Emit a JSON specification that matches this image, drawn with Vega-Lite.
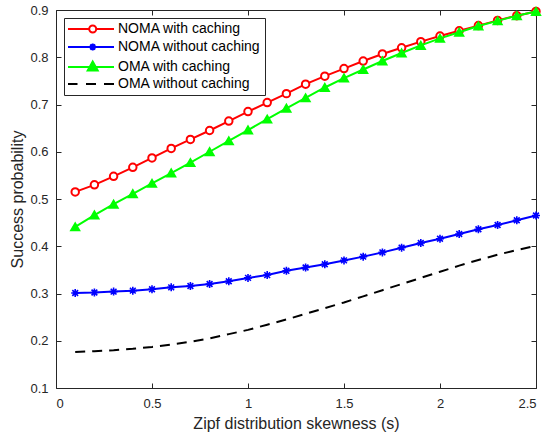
{
  "$schema": "https://vega.github.io/schema/vega-lite/v6.json",
  "width": 480,
  "height": 378,
  "autosize": {"type": "none"},
  "padding": {"left": 56, "top": 10, "right": 9, "bottom": 49},
  "background": "white",
  "config": {
    "font": "Liberation Sans",
    "view": {"stroke": null},
    "axis": {
      "grid": false,
      "domainColor": "#262626",
      "tickColor": "#262626",
      "labelColor": "#262626",
      "titleColor": "#262626",
      "labelFont": "Liberation Sans",
      "titleFont": "Liberation Sans",
      "labelFontSize": 13,
      "titleFontSize": 16,
      "titleFontWeight": "normal",
      "tickSize": -5,
      "domainWidth": 1,
      "tickWidth": 1
    },
    "legend": {
      "orient": "none", "legendX": 8, "legendY": 8, "fillColor": "white", "strokeColor": "#262626", "padding": 4,
      "labelFont": "Liberation Sans", "labelFontSize": 14, "labelColor": "#000000", "symbolSize": 100, "symbolStrokeWidth": 2,
      "labelOffset": 36, "rowPadding": 2, "labelLimit": 300
    }
  },
  "data": {
    "values": [
      {"s": 0.1, "series": "NOMA with caching", "p": 0.515},
      {"s": 0.2, "series": "NOMA with caching", "p": 0.530},
      {"s": 0.3, "series": "NOMA with caching", "p": 0.548},
      {"s": 0.4, "series": "NOMA with caching", "p": 0.567},
      {"s": 0.5, "series": "NOMA with caching", "p": 0.587},
      {"s": 0.6, "series": "NOMA with caching", "p": 0.607},
      {"s": 0.7, "series": "NOMA with caching", "p": 0.626},
      {"s": 0.8, "series": "NOMA with caching", "p": 0.645},
      {"s": 0.9, "series": "NOMA with caching", "p": 0.665},
      {"s": 1.0, "series": "NOMA with caching", "p": 0.685},
      {"s": 1.1, "series": "NOMA with caching", "p": 0.704},
      {"s": 1.2, "series": "NOMA with caching", "p": 0.723},
      {"s": 1.3, "series": "NOMA with caching", "p": 0.743},
      {"s": 1.4, "series": "NOMA with caching", "p": 0.760},
      {"s": 1.5, "series": "NOMA with caching", "p": 0.776},
      {"s": 1.6, "series": "NOMA with caching", "p": 0.792},
      {"s": 1.7, "series": "NOMA with caching", "p": 0.807},
      {"s": 1.8, "series": "NOMA with caching", "p": 0.820},
      {"s": 1.9, "series": "NOMA with caching", "p": 0.833},
      {"s": 2.0, "series": "NOMA with caching", "p": 0.845},
      {"s": 2.1, "series": "NOMA with caching", "p": 0.856},
      {"s": 2.2, "series": "NOMA with caching", "p": 0.867},
      {"s": 2.3, "series": "NOMA with caching", "p": 0.878},
      {"s": 2.4, "series": "NOMA with caching", "p": 0.888},
      {"s": 2.5, "series": "NOMA with caching", "p": 0.897},
      {"s": 0.1, "series": "NOMA without caching", "p": 0.301},
      {"s": 0.2, "series": "NOMA without caching", "p": 0.302},
      {"s": 0.3, "series": "NOMA without caching", "p": 0.304},
      {"s": 0.4, "series": "NOMA without caching", "p": 0.306},
      {"s": 0.5, "series": "NOMA without caching", "p": 0.309},
      {"s": 0.6, "series": "NOMA without caching", "p": 0.313},
      {"s": 0.7, "series": "NOMA without caching", "p": 0.316},
      {"s": 0.8, "series": "NOMA without caching", "p": 0.320},
      {"s": 0.9, "series": "NOMA without caching", "p": 0.326},
      {"s": 1.0, "series": "NOMA without caching", "p": 0.333},
      {"s": 1.1, "series": "NOMA without caching", "p": 0.339},
      {"s": 1.2, "series": "NOMA without caching", "p": 0.348},
      {"s": 1.3, "series": "NOMA without caching", "p": 0.355},
      {"s": 1.4, "series": "NOMA without caching", "p": 0.362},
      {"s": 1.5, "series": "NOMA without caching", "p": 0.370},
      {"s": 1.6, "series": "NOMA without caching", "p": 0.378},
      {"s": 1.7, "series": "NOMA without caching", "p": 0.387},
      {"s": 1.8, "series": "NOMA without caching", "p": 0.397},
      {"s": 1.9, "series": "NOMA without caching", "p": 0.407},
      {"s": 2.0, "series": "NOMA without caching", "p": 0.416},
      {"s": 2.1, "series": "NOMA without caching", "p": 0.426},
      {"s": 2.2, "series": "NOMA without caching", "p": 0.436},
      {"s": 2.3, "series": "NOMA without caching", "p": 0.445},
      {"s": 2.4, "series": "NOMA without caching", "p": 0.455},
      {"s": 2.5, "series": "NOMA without caching", "p": 0.465},
      {"s": 0.1, "series": "OMA with caching", "p": 0.441},
      {"s": 0.2, "series": "OMA with caching", "p": 0.466},
      {"s": 0.3, "series": "OMA with caching", "p": 0.489},
      {"s": 0.4, "series": "OMA with caching", "p": 0.511},
      {"s": 0.5, "series": "OMA with caching", "p": 0.533},
      {"s": 0.6, "series": "OMA with caching", "p": 0.555},
      {"s": 0.7, "series": "OMA with caching", "p": 0.577},
      {"s": 0.8, "series": "OMA with caching", "p": 0.600},
      {"s": 0.9, "series": "OMA with caching", "p": 0.623},
      {"s": 1.0, "series": "OMA with caching", "p": 0.646},
      {"s": 1.1, "series": "OMA with caching", "p": 0.669},
      {"s": 1.2, "series": "OMA with caching", "p": 0.692},
      {"s": 1.3, "series": "OMA with caching", "p": 0.714},
      {"s": 1.4, "series": "OMA with caching", "p": 0.736},
      {"s": 1.5, "series": "OMA with caching", "p": 0.756},
      {"s": 1.6, "series": "OMA with caching", "p": 0.774},
      {"s": 1.7, "series": "OMA with caching", "p": 0.792},
      {"s": 1.8, "series": "OMA with caching", "p": 0.809},
      {"s": 1.9, "series": "OMA with caching", "p": 0.825},
      {"s": 2.0, "series": "OMA with caching", "p": 0.840},
      {"s": 2.1, "series": "OMA with caching", "p": 0.853},
      {"s": 2.2, "series": "OMA with caching", "p": 0.866},
      {"s": 2.3, "series": "OMA with caching", "p": 0.877},
      {"s": 2.4, "series": "OMA with caching", "p": 0.888},
      {"s": 2.5, "series": "OMA with caching", "p": 0.897},
      {"s": 0.1, "series": "OMA without caching", "p": 0.176},
      {"s": 0.2, "series": "OMA without caching", "p": 0.178},
      {"s": 0.3, "series": "OMA without caching", "p": 0.180},
      {"s": 0.4, "series": "OMA without caching", "p": 0.183},
      {"s": 0.5, "series": "OMA without caching", "p": 0.187},
      {"s": 0.6, "series": "OMA without caching", "p": 0.192},
      {"s": 0.7, "series": "OMA without caching", "p": 0.198},
      {"s": 0.8, "series": "OMA without caching", "p": 0.205},
      {"s": 0.9, "series": "OMA without caching", "p": 0.214},
      {"s": 1.0, "series": "OMA without caching", "p": 0.223},
      {"s": 1.1, "series": "OMA without caching", "p": 0.234},
      {"s": 1.2, "series": "OMA without caching", "p": 0.245},
      {"s": 1.3, "series": "OMA without caching", "p": 0.257},
      {"s": 1.4, "series": "OMA without caching", "p": 0.269},
      {"s": 1.5, "series": "OMA without caching", "p": 0.281},
      {"s": 1.6, "series": "OMA without caching", "p": 0.294},
      {"s": 1.7, "series": "OMA without caching", "p": 0.307},
      {"s": 1.8, "series": "OMA without caching", "p": 0.320},
      {"s": 1.9, "series": "OMA without caching", "p": 0.333},
      {"s": 2.0, "series": "OMA without caching", "p": 0.346},
      {"s": 2.1, "series": "OMA without caching", "p": 0.359},
      {"s": 2.2, "series": "OMA without caching", "p": 0.371},
      {"s": 2.3, "series": "OMA without caching", "p": 0.382},
      {"s": 2.4, "series": "OMA without caching", "p": 0.392},
      {"s": 2.5, "series": "OMA without caching", "p": 0.401}
    ]
  },
  "encoding": {
    "x": {"field": "s", "type": "quantitative", "scale": {"domain": [0, 2.5], "nice": false, "zero": false}, "axis": null},
    "y": {"field": "p", "type": "quantitative", "scale": {"domain": [0.1, 0.9], "nice": false, "zero": false}, "axis": null}
  },
  "resolve": {"axis": {"x": "independent", "y": "independent"}},
  "layer": [
    {
      "transform": [{"filter": "datum.series === 'NOMA with caching'"}],
      "mark": {"type": "line", "color": "#ff0000", "strokeWidth": 2},
      "encoding": {
        "x": {"field": "s", "type": "quantitative", "scale": {"domain": [0, 2.5], "nice": false, "zero": false},
          "axis": {"orient": "bottom", "values": [0, 0.5, 1, 1.5, 2, 2.5], "format": "~g", "title": "Zipf distribution skewness (s)", "labelPadding": 14, "titlePadding": 5}},
        "y": {"field": "p", "type": "quantitative", "scale": {"domain": [0.1, 0.9], "nice": false, "zero": false},
          "axis": {"orient": "left", "values": [0.1, 0.2, 0.3, 0.4, 0.5, 0.6, 0.7, 0.8, 0.9], "format": ".1f", "title": "Success probability", "labelPadding": 13, "titlePadding": 4}}
      }
    },
    {
      "transform": [{"filter": "datum.series === 'NOMA with caching'"}],
      "mark": {"type": "point", "shape": "circle", "size": 56, "filled": false, "fill": "white", "stroke": "#ff0000", "strokeWidth": 2, "opacity": 1},
      "encoding": {
        "x": {"field": "s", "type": "quantitative", "scale": {"domain": [0, 2.5], "nice": false, "zero": false},
          "axis": {"orient": "top", "values": [0, 0.5, 1, 1.5, 2, 2.5], "labels": false, "title": null}},
        "y": {"field": "p", "type": "quantitative", "scale": {"domain": [0.1, 0.9], "nice": false, "zero": false},
          "axis": {"orient": "right", "values": [0.1, 0.2, 0.3, 0.4, 0.5, 0.6, 0.7, 0.8, 0.9], "labels": false, "title": null}}
      }
    },
    {
      "transform": [{"filter": "datum.series === 'NOMA without caching'"}],
      "mark": {"type": "line", "color": "#0000ff", "strokeWidth": 2}
    },
    {
      "transform": [{"filter": "datum.series === 'NOMA without caching'"}],
      "mark": {"type": "point", "shape": "M-1,0H1M0,-1V1M-0.72,-0.72L0.72,0.72M-0.72,0.72L0.72,-0.72", "size": 64, "filled": false, "stroke": "#0000ff", "strokeWidth": 1.6, "opacity": 1}
    },
    {
      "transform": [{"filter": "datum.series === 'OMA with caching'"}],
      "mark": {"type": "line", "color": "#00ff00", "strokeWidth": 2}
    },
    {
      "transform": [{"filter": "datum.series === 'OMA with caching'"}],
      "mark": {"type": "point", "shape": "triangle-up", "size": 64, "filled": true, "fill": "#00ff00", "stroke": "#00ff00", "strokeWidth": 2, "opacity": 1}
    },
    {
      "transform": [{"filter": "datum.series === 'OMA without caching'"}],
      "mark": {"type": "line", "color": "#000000", "strokeWidth": 2, "strokeDash": [10, 7]}
    },
    {
      "transform": [{"filter": "datum.s < 0"}],
      "mark": {"type": "point", "filled": false, "opacity": 1, "strokeWidth": 2},
      "encoding": {
        "color": {"field": "series", "type": "nominal",
          "scale": {"domain": ["NOMA with caching", "NOMA without caching", "OMA with caching", "OMA without caching"], "range": ["#ff0000", "#0000ff", "#00ff00", "#000000"]},
          "legend": {"title": null}},
        "shape": {"field": "series", "type": "nominal",
          "scale": {"domain": ["NOMA with caching", "NOMA without caching", "OMA with caching", "OMA without caching"],
            "range": [
              "M-1.4,0H2.84M4.24,0H7.8M2.84,0A0.7,0.7 0 1,1 4.24,0A0.7,0.7 0 1,1 2.84,0Z",
              "M-1.4,0H7.8M3.54,-0.7V0.7M3.04,-0.5L4.04,0.5M3.04,0.5L4.04,-0.5",
              "M-1.4,0H7.8M3.54,-1.1L4.54,0.7L2.54,0.7Z",
              "M-1.4,0H0.5M2.2,0H4.2M5.8,0H7.8"
            ]},
          "legend": {"title": null}},
        "fill": {"field": "series", "type": "nominal",
          "scale": {"domain": ["NOMA with caching", "NOMA without caching", "OMA with caching", "OMA without caching"], "range": ["#ffffff", "transparent", "#00ff00", "transparent"]},
          "legend": {"title": null}}
      }
    }
  ]
}
